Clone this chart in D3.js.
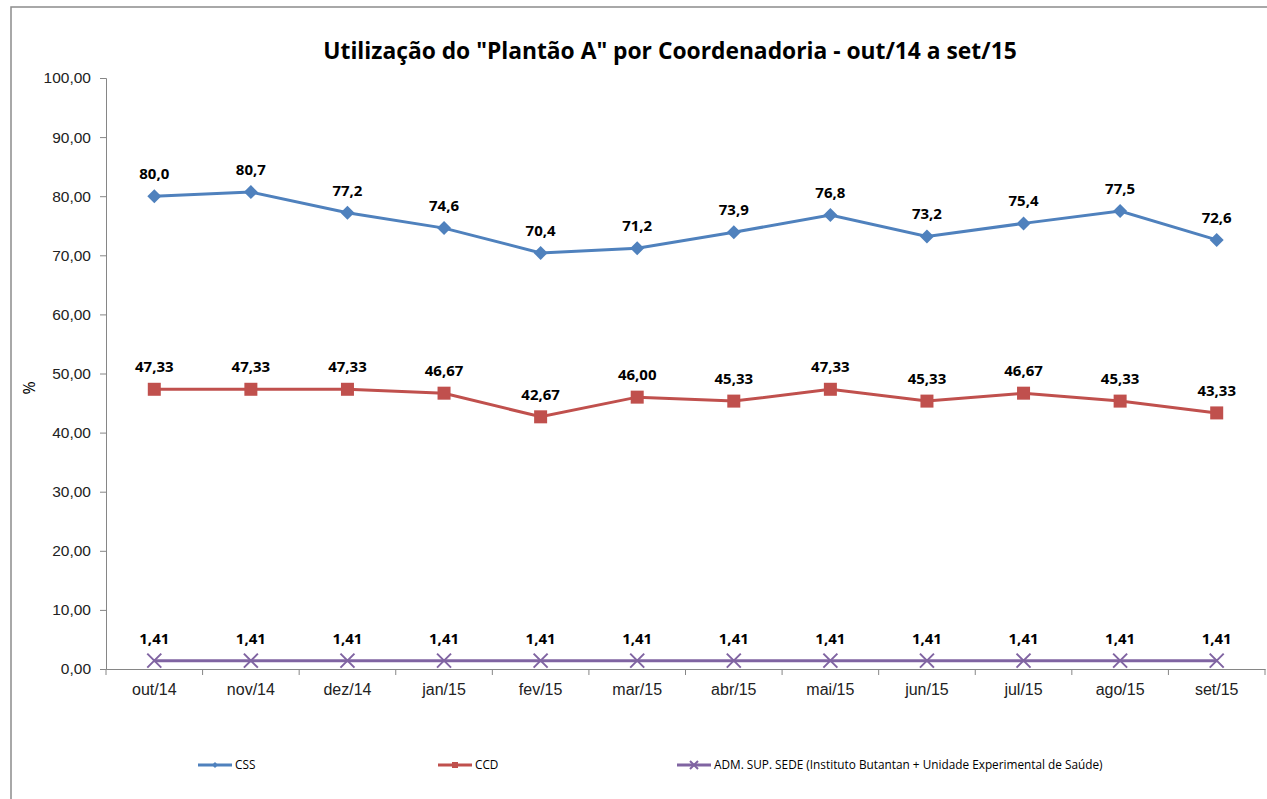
<!DOCTYPE html>
<html>
<head>
<meta charset="utf-8">
<script src="https://cdn.jsdelivr.net/npm/d3@7"></script>
<style>
  body { margin: 0; background: #fff; }
  svg { display: block; font-family: "Open Sans", "Liberation Sans", sans-serif; }
</style>
</head>
<body>
<div id="chart"></div>
<script>
const months = ["out/14", "nov/14", "dez/14", "jan/15", "fev/15", "mar/15", "abr/15", "mai/15", "jun/15", "jul/15", "ago/15", "set/15"]
const css = [80.0, 80.7, 77.2, 74.6, 70.4, 71.2, 73.9, 76.8, 73.2, 75.4, 77.5, 72.6]
const ccd = [47.33, 47.33, 47.33, 46.67, 42.67, 46.00, 45.33, 47.33, 45.33, 46.67, 45.33, 43.33]
const adm = [1.41, 1.41, 1.41, 1.41, 1.41, 1.41, 1.41, 1.41, 1.41, 1.41, 1.41, 1.41]
const yTicks = [0, 10, 20, 30, 40, 50, 60, 70, 80, 90, 100]

const W = 1267, H = 799
const MARGIN = { TOP: 78, LEFT: 106, RIGHT: 2, BOTTOM: 130 }
const WIDTH = W - MARGIN.LEFT - MARGIN.RIGHT
const HEIGHT = H - MARGIN.TOP - MARGIN.BOTTOM

const comma = d3.formatLocale({ decimal: ",", thousands: ".", grouping: [3], currency: ["R$", ""] })
const f1 = comma.format(".1f")
const f2 = comma.format(".2f")

const series = [
  { name: "CSS", values: css, color: "#4F81BD", shape: "diamond", fmt: f1, lx: 198 },
  { name: "CCD", values: ccd, color: "#C0504D", shape: "square", fmt: f2, lx: 438 },
  { name: "ADM. SUP. SEDE (Instituto Butantan + Unidade Experimental de Saúde)", values: adm, color: "#8064A2", shape: "x", fmt: f2, lx: 677 }
]

const svg = d3.select("#chart").append("svg")
  .attr("width", W).attr("height", H)

// chart border
svg.append("rect")
  .attr("x", 11).attr("y", 7)
  .attr("width", W + 10).attr("height", H + 10)
  .attr("fill", "none").attr("stroke", "#8c8c8c").attr("stroke-width", 1.5)

svg.append("text")
  .attr("x", 670).attr("y", 59)
  .attr("text-anchor", "middle")
  .attr("font-size", "22.8px").attr("font-weight", "bold")
  .attr("fill", "#000")
  .text("Utilização do \"Plantão A\" por Coordenadoria - out/14 a set/15")

const g = svg.append("g").attr("transform", `translate(${MARGIN.LEFT}, ${MARGIN.TOP})`)

const x = d3.scaleBand().domain(months).range([0, WIDTH])
const y = d3.scaleLinear().domain([0, 100]).range([HEIGHT, 0])
const cx = d => x(d) + x.bandwidth() / 2

// y axis
const yAxis = g.append("g")
  .call(d3.axisLeft(y).tickValues(yTicks).tickFormat(f2).tickSize(6).tickPadding(9))
yAxis.select(".domain").attr("stroke", "#868686")
yAxis.selectAll(".tick line").attr("stroke", "#868686")
yAxis.selectAll("text").attr("font-size", "15.5px").attr("fill", "#222")

// x axis
const xAxis = g.append("g")
  .attr("transform", `translate(0, ${HEIGHT})`)
  .call(d3.axisBottom(x).tickSize(0).tickPadding(15))
xAxis.select(".domain").attr("stroke", "#868686")
xAxis.selectAll("text").attr("font-size", "16px").attr("fill", "#222")
g.append("g").selectAll("line")
  .data(d3.range(months.length + 1))
  .join("line")
  .attr("x1", i => i * x.step()).attr("x2", i => i * x.step())
  .attr("y1", HEIGHT).attr("y2", HEIGHT + 6)
  .attr("stroke", "#868686")

svg.append("text")
  .attr("transform", `translate(35, 388) rotate(-90)`)
  .attr("text-anchor", "middle")
  .attr("font-size", "16px")
  .text("%")

const line = d3.line().x((d, i) => cx(months[i])).y(d => y(d))

function marker(sel, shape, color, size) {
  if (shape === "diamond") {
    sel.append("path")
      .attr("d", `M0,${-size}L${size},0L0,${size}L${-size},0Z`)
      .attr("fill", color)
  } else if (shape === "square") {
    sel.append("rect")
      .attr("x", -size).attr("y", -size).attr("width", size * 2).attr("height", size * 2)
      .attr("fill", color)
  } else {
    sel.append("path")
      .attr("d", `M${-size},${-size}L${size},${size}M${-size},${size}L${size},${-size}`)
      .attr("stroke", color).attr("stroke-width", 2).attr("fill", "none")
  }
}

series.forEach(s => {
  g.append("path")
    .datum(s.values)
    .attr("d", line)
    .attr("fill", "none")
    .attr("stroke", s.color)
    .attr("stroke-width", 3)

  const pts = g.append("g").selectAll("g")
    .data(s.values)
    .join("g")
    .attr("transform", (d, i) => `translate(${cx(months[i])}, ${y(d)})`)
  pts.each(function () { marker(d3.select(this), s.shape, s.color, s.shape === "square" ? 6.5 : 7) })

  g.append("g").selectAll("text")
    .data(s.values)
    .join("text")
    .attr("x", (d, i) => cx(months[i]))
    .attr("y", d => y(d) - 17)
    .attr("text-anchor", "middle")
    .attr("font-size", "15px").attr("font-weight", "bold")
    .attr("fill", "#000")
    .text(d => s.fmt(d))

  // legend
  const lg = svg.append("g").attr("transform", `translate(${s.lx}, 765)`)
  lg.append("line").attr("x1", 0).attr("x2", 34).attr("stroke", s.color).attr("stroke-width", 3)
  const m = lg.append("g").attr("transform", "translate(17, 0)")
  marker(m, s.shape, s.color, s.shape === "x" ? 4 : 3)
  lg.append("text")
    .attr("x", 37).attr("y", 4)
    .attr("font-size", "11.8px")
    .attr("fill", "#000")
    .text(s.name)
})
</script>
</body>
</html>
